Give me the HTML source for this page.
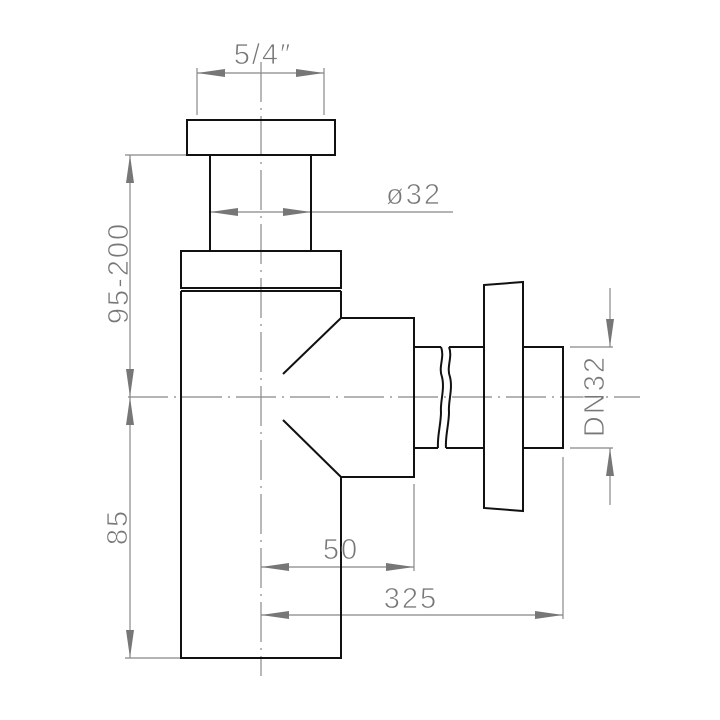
<!DOCTYPE html>
<html><head><style>html,body{margin:0;padding:0;background:#fff}svg{display:block}</style></head>
<body>
<svg width="720" height="720" viewBox="0 0 720 720" xmlns="http://www.w3.org/2000/svg">
<rect width="720" height="720" fill="#fff"/>
<g stroke="#888" stroke-width="1.2" fill="none">
<line x1="261" y1="62" x2="261" y2="676" stroke-dasharray="40,6,2,6"/>
<line x1="128" y1="397" x2="640" y2="397" stroke-dasharray="40,6,2,6"/>
<line x1="197" y1="68" x2="197" y2="115"/><line x1="324" y1="68" x2="324" y2="115"/>
<line x1="197" y1="73" x2="324" y2="73"/>
<line x1="125" y1="155" x2="187" y2="155"/>
<line x1="125" y1="658" x2="181" y2="658"/>
<line x1="130" y1="155" x2="130" y2="658"/>
<line x1="210" y1="212" x2="453" y2="212"/>
<line x1="414" y1="484" x2="414" y2="571"/>
<line x1="261" y1="567" x2="414" y2="567"/>
<line x1="563" y1="457" x2="563" y2="619"/>
<line x1="261" y1="615" x2="563" y2="615"/>
<line x1="570" y1="347" x2="613" y2="347"/><line x1="570" y1="448" x2="613" y2="448"/>
<line x1="610" y1="288" x2="610" y2="347"/>
<line x1="610" y1="505" x2="610" y2="448"/>
</g>
<g fill="#777">
<!-- 5/4 -->
<polygon points="197,73 225,69 225,77"/><polygon points="324,73 296,69 296,77"/>
<!-- left -->
<polygon points="130,155 126,183 134,183"/><polygon points="130,397 126,369 134,369"/>
<polygon points="130,397 126,425 134,425"/><polygon points="130,658 126,630 134,630"/>
<!-- ø32 -->
<polygon points="210,212 238,208 238,216"/><polygon points="311,212 283,208 283,216"/>
<!-- 50 -->
<polygon points="261,567 289,563 289,571"/><polygon points="414,567 386,563 386,571"/>
<!-- 325 -->
<polygon points="261,615 289,611 289,619"/><polygon points="563,615 535,611 535,619"/>
<!-- DN32 -->
<polygon points="610,347 606,319 614,319"/><polygon points="610,448 606,476 614,476"/>
</g>
<g stroke="#111" stroke-width="2" fill="none" stroke-linejoin="miter">
<rect x="187" y="120" width="148" height="35"/>
<line x1="210" y1="155" x2="210" y2="250"/><line x1="311" y1="155" x2="311" y2="250"/>
<rect x="181" y="251" width="160" height="37"/>
<line x1="181" y1="291" x2="341" y2="291"/>
<path d="M181,291 V658 H341 V477 H414 V318 H341 V291"/>
<path d="M283,374 L341,318"/><path d="M283,420 L341,477"/>
<path d="M414,347 H441 M449,347 H484 M414,448 H438 M446,448 H484"/>
<path d="M441,347 c4,10 -3,20 1,30 c3,12 -2,25 -1,35 c0,12 -4,25 -3,36"/>
<path d="M449,347 c4,10 -3,20 1,30 c3,12 -2,25 -1,35 c0,12 -4,25 -3,36"/>
<path d="M484,285 L523,282 L523,511 L484,508 Z"/>
<path d="M523,347 H563 V448 H523"/>
</g>
<g fill="#777" font-family="Liberation Sans, sans-serif" font-size="29" text-anchor="middle" letter-spacing="2" stroke="#fff" stroke-width="0.8">
<text x="263" y="64">5/4″</text>
<text x="414" y="204">ø32</text>
<text x="341" y="559">50</text>
<text x="411" y="608">325</text>
<text transform="translate(128,273) rotate(-90)">95-200</text>
<text transform="translate(127,527) rotate(-90)">85</text>
<text transform="translate(604,396) rotate(-90)">DN32</text>
</g>
</svg>
</body></html>
